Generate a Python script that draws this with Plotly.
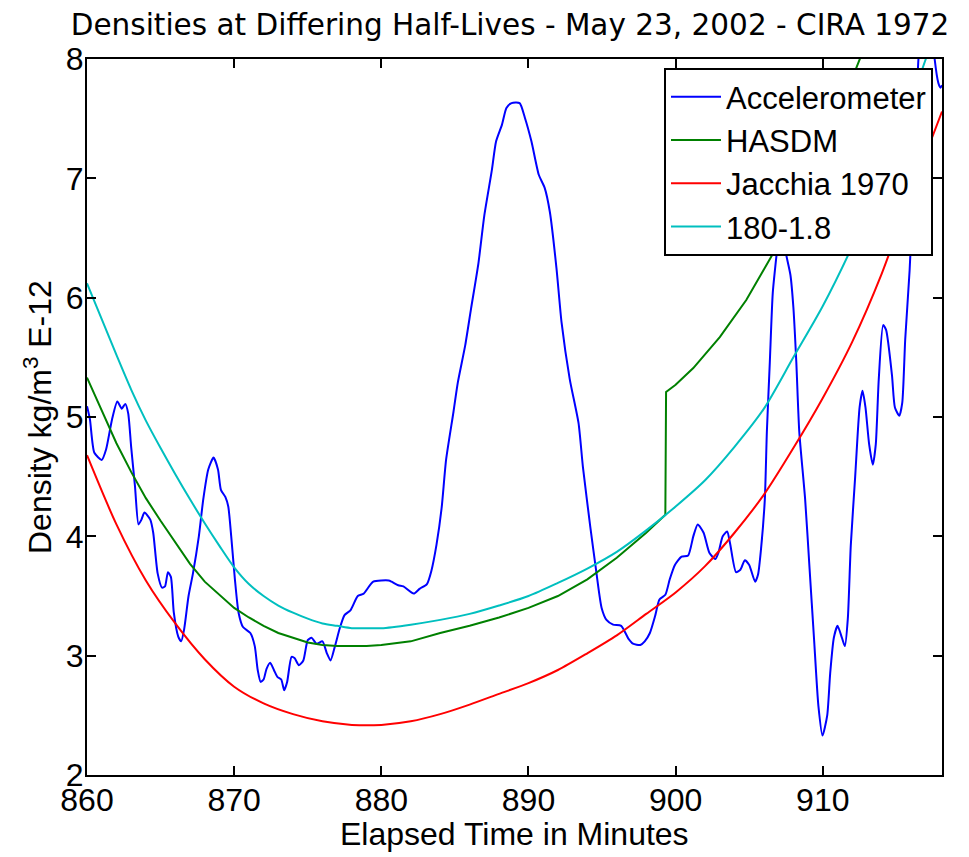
import plotly.graph_objects as go

# ---------------- data ----------------
acc_t = [860.0, 860.2, 860.5, 861.0, 861.3, 861.7, 862.06, 862.36, 862.6, 862.8,
         863.0, 863.26, 863.5, 863.7, 863.9, 864.3, 864.5, 864.8, 865.1, 865.3,
         865.5, 865.7, 865.9, 866.2, 866.4, 866.6, 866.9, 867.2, 867.6, 867.9,
         868.24, 868.6, 868.9, 869.1, 869.4, 869.6, 869.8, 870.05, 870.3, 870.6,
         871.1, 871.4, 871.6, 871.8, 872.0, 872.2, 872.45, 872.7, 872.95, 873.2,
         873.4, 873.6, 873.9, 874.1, 874.4, 874.7, 875.0, 875.26, 875.6, 876.0,
         876.3, 876.55, 876.85, 877.2, 877.5, 877.9, 878.4, 878.8, 879.45, 880.5,
         880.7, 881.15, 881.5, 882.2, 882.6, 883.1, 883.4, 883.75, 884.1, 884.4,
         884.9, 885.2, 885.7, 886.1, 886.6, 887.0, 887.5, 887.8, 888.2, 888.5,
         888.85, 889.4, 889.75, 890.2, 890.7, 891.1, 891.45, 891.9, 892.25, 892.8,
         893.4, 893.7, 894.2, 894.6, 894.97, 895.3, 895.75, 896.3, 896.8, 897.1,
         897.6, 897.9, 898.25, 898.6, 898.9, 899.3, 899.6, 899.95, 900.4, 900.85,
         901.2, 901.5, 901.9, 902.3, 902.7, 902.9, 903.2, 903.5, 903.7, 904.1,
         904.4, 904.7, 905.0, 905.4, 905.6, 905.8, 906.06, 906.2, 906.4, 906.6,
         906.85, 907.2, 907.45, 907.8, 908.0, 908.2, 908.4, 908.8, 909.1, 909.4,
         909.7, 909.98, 910.3, 910.5, 910.75, 911.0, 911.3, 911.5, 911.7, 911.9,
         912.2, 912.5, 912.7, 912.9, 913.15, 913.4, 913.6, 913.8, 914.1, 914.3,
         914.7, 914.9, 915.2, 915.4, 915.6, 915.9, 916.1, 916.3, 916.5, 916.8,
         917.1, 917.4, 917.6, 917.85, 918.0, 918.1]
acc_d = [5.09, 4.98, 4.70, 4.64, 4.73, 4.98, 5.13, 5.07, 5.11, 5.03,
         4.75, 4.42, 4.10, 4.14, 4.20, 4.14, 4.03, 3.69, 3.57, 3.58,
         3.70, 3.66, 3.36, 3.16, 3.12, 3.22, 3.50, 3.69, 4.00, 4.31,
         4.56, 4.66, 4.56, 4.39, 4.33, 4.25, 4.00, 3.64, 3.36, 3.24,
         3.19, 3.08, 2.88, 2.78, 2.80, 2.89, 2.94, 2.88, 2.82, 2.80,
         2.71, 2.78, 2.99, 2.98, 2.92, 2.96, 3.13, 3.15, 3.10, 3.12,
         3.02, 2.96, 3.08, 3.24, 3.34, 3.38, 3.50, 3.52, 3.62, 3.63,
         3.62, 3.59, 3.58, 3.52, 3.56, 3.60, 3.71, 3.93, 4.24, 4.64,
         5.04, 5.29, 5.60, 5.91, 6.29, 6.69, 7.06, 7.31, 7.45, 7.59,
         7.63, 7.63, 7.51, 7.31, 7.03, 6.92, 6.72, 6.25, 5.79, 5.32,
         4.95, 4.58, 4.08, 3.71, 3.40, 3.30, 3.26, 3.25, 3.14, 3.10,
         3.09, 3.12, 3.19, 3.33, 3.47, 3.51, 3.64, 3.76, 3.83, 3.84,
         4.00, 4.10, 4.03, 3.86, 3.81, 3.86, 4.00, 4.04, 3.94, 3.70,
         3.72, 3.80, 3.76, 3.62, 3.68, 3.89, 4.31, 4.88, 5.46, 6.04,
         6.35, 6.72, 6.40, 6.19, 5.92, 5.46, 4.88, 4.31, 3.73, 3.15,
         2.58, 2.33, 2.50, 2.85, 3.15, 3.25, 3.15, 3.08, 3.31, 3.92,
         4.50, 5.08, 5.22, 5.08, 4.77, 4.60, 4.77, 5.31, 5.77, 5.73,
         5.35, 5.08, 5.01, 5.12, 5.65, 6.23, 6.77, 7.40, 8.00, 8.40,
         8.50, 8.30, 8.00, 7.80, 7.76, 7.78]

hasdm_t = [860, 861, 862, 863, 864, 865, 866, 867, 868, 869, 870, 871, 872, 873,
           874, 875, 876, 877, 878, 879, 880, 882, 884, 886, 888, 890, 892, 894,
           896, 898, 899.3, 899.35, 900, 901.2, 903, 904.8, 906.9, 908, 909,
           910, 911, 912, 912.5, 913]
hasdm_d = [5.33, 5.05, 4.78, 4.54, 4.32, 4.13, 3.95, 3.77, 3.62, 3.51, 3.40, 3.32,
           3.25, 3.19, 3.15, 3.11, 3.09, 3.08, 3.08, 3.08, 3.09, 3.12, 3.19, 3.25,
           3.32, 3.40, 3.50, 3.64, 3.82, 4.03, 4.18, 5.21, 5.27, 5.41, 5.67, 5.98,
           6.43, 6.72, 6.98, 7.25, 7.53, 7.85, 8.00, 8.15]

j70_t = [860, 862, 864, 866, 868, 870, 872, 874, 876, 878, 880, 882, 884, 886, 888,
         890, 892, 894, 896, 898, 900, 902, 904, 906, 908, 910, 912, 914, 916, 918.1]
j70_d = [4.68, 4.10, 3.63, 3.27, 2.97, 2.74, 2.60, 2.51, 2.45, 2.42, 2.42, 2.45,
         2.51, 2.59, 2.68, 2.77, 2.88, 3.02, 3.17, 3.35, 3.53, 3.75, 4.03, 4.35,
         4.74, 5.16, 5.63, 6.20, 6.88, 7.56]

hl_t = [860, 861, 862, 863, 864, 865, 866, 867, 868, 869, 870, 871, 872, 873, 874,
        875, 876, 877, 878, 879, 880, 882, 884, 886, 888, 890, 892, 894, 896, 898,
        900, 902, 904, 906, 908, 910, 912, 914, 916, 917, 918]
hl_d = [6.12, 5.82, 5.52, 5.23, 4.97, 4.74, 4.52, 4.31, 4.11, 3.92, 3.74, 3.60,
        3.50, 3.42, 3.36, 3.31, 3.27, 3.25, 3.23, 3.23, 3.23, 3.26, 3.30, 3.35,
        3.42, 3.50, 3.61, 3.73, 3.87, 4.05, 4.25, 4.47, 4.75, 5.07, 5.50, 5.93,
        6.43, 7.00, 7.65, 8.00, 8.35]

x_ticks = [860, 870, 880, 890, 900, 910]
y_ticks = [2, 3, 4, 5, 6, 7, 8]

title_text = "Densities at Differing Half-Lives - May 23, 2002 - CIRA 1972"
x_label = "Elapsed Time in Minutes"
y_label = "Density kg/m<sup>3</sup> E-12"

# ---------------- figure ----------------
# The page body has an 8px margin, so the figure is drawn at (8, 8) in the window.
FONT = "Liberation Sans, Arial, Helvetica, sans-serif"
OFF = 8
W, H = 969 - OFF, 857 - OFF
# target plot box in window pixels: x 87..942, y 59..775
L, R, T, B = 87 - OFF, 969 - 942, 59 - OFF, 857 - 775
PW, PH = W - L - R, H - T - B

fig = go.Figure()
fig.add_trace(go.Scatter(x=acc_t, y=acc_d, mode="lines", name="Accelerometer",
                         line=dict(color="#0000FF", width=2, shape="spline", smoothing=0.6)))
fig.add_trace(go.Scatter(x=hasdm_t, y=hasdm_d, mode="lines", name="HASDM",
                         line=dict(color="#008000", width=2)))
fig.add_trace(go.Scatter(x=j70_t, y=j70_d, mode="lines", name="Jacchia 1970",
                         line=dict(color="#FF0000", width=2, shape="spline", smoothing=0.8)))
fig.add_trace(go.Scatter(x=hl_t, y=hl_d, mode="lines", name="180-1.8",
                         line=dict(color="#00BFBF", width=2, shape="spline", smoothing=0.8)))

axis_common = dict(
    showgrid=False, zeroline=False, automargin=False,
    showline=True, linecolor="black", linewidth=2, mirror="ticks",
    ticks="inside", ticklen=9, tickwidth=1.5, tickcolor="black",
    tickfont=dict(family=FONT, size=32, color="black"),
)

fig.update_layout(
    width=W, height=H,
    margin=dict(l=L, r=R, t=T, b=B, autoexpand=False),
    paper_bgcolor="white", plot_bgcolor="white",
    font=dict(family=FONT, size=32, color="black"),
    title=dict(text=title_text, x=(510 - OFF) / W, xref="container", xanchor="center",
               y=1 - (25 - OFF) / H, yref="container", yanchor="middle",
               font=dict(family="DejaVu Sans, sans-serif", size=29.5, color="black")),
    xaxis=dict(range=[860, 918.1], tickvals=x_ticks, ticklabelstandoff=-4, **axis_common),
    yaxis=dict(range=[2, 8], tickvals=y_ticks, ticklabelstandoff=-5, **axis_common),
    legend=dict(x=(933 - 87) / PW, y=(775 - 68) / PH, xanchor="right", yanchor="top",
                bgcolor="white", bordercolor="black", borderwidth=2,
                font=dict(family=FONT, size=31, color="black"),
                itemwidth=50, tracegroupgap=0),
    showlegend=True,
    annotations=[
        dict(text=x_label, xref="paper", yref="paper", x=0.5, y=-(834 - 775) / PH,
             xanchor="center", yanchor="middle", showarrow=False,
             font=dict(family=FONT, size=32, color="black")),
        dict(text=y_label, xref="paper", yref="paper", x=(38 - 87) / PW, y=0.5,
             xanchor="center", yanchor="middle", textangle=-90, showarrow=False,
             font=dict(family=FONT, size=32, color="black")),
    ],
)

fig.write_html("out.html")
